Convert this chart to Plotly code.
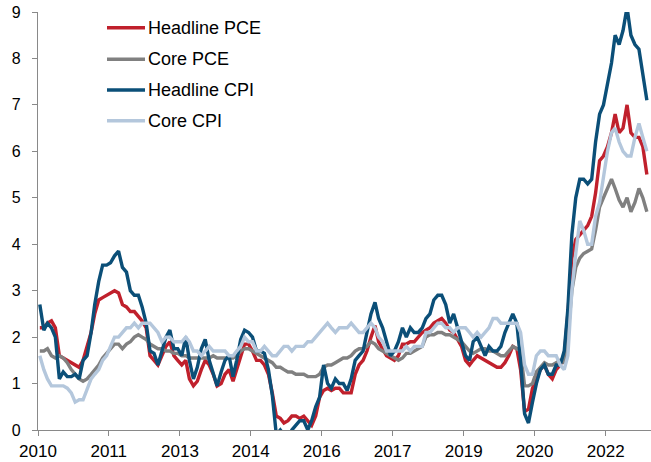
import plotly.graph_objects as go

# Monthly year-over-year inflation, Jan 2010 - Nov 2022 (%)
headline_pce = [
    2.2, 2.2, 2.3, 2.35, 2.2, 1.6, 1.55, 1.5, 1.45, 1.4, 1.35, 1.5,
    1.8, 2.1, 2.5, 2.8, 2.85, 2.9, 2.95, 3.0, 2.95, 2.7, 2.65, 2.55,
    2.55, 2.45, 2.35, 2.2, 1.6, 1.5, 1.4, 1.6, 1.8, 1.9, 1.6, 1.5,
    1.4, 1.5, 1.1, 0.95, 1.05, 1.3, 1.5, 1.4, 1.2, 0.95, 1.0, 1.2,
    1.3, 1.05, 1.3, 1.6, 1.85, 1.85, 1.7, 1.5, 1.5, 1.4, 1.2, 0.8,
    0.3, 0.25, 0.15, 0.2, 0.3, 0.3, 0.25, 0.3, 0.2, 0.1, 0.3, 0.7,
    0.85, 0.9, 0.85, 0.9, 0.9, 0.8, 0.8, 0.8, 1.2, 1.4, 1.5, 1.7,
    2.0, 2.25, 1.9, 1.75, 1.6, 1.55, 1.5, 1.6, 1.85, 1.85, 1.9, 1.9,
    2.0, 2.1, 2.15, 2.2, 2.3, 2.35, 2.4, 2.3, 2.15, 2.1, 1.95, 1.8,
    1.5, 1.4, 1.5, 1.6, 1.55, 1.5, 1.45, 1.4, 1.35, 1.35, 1.45, 1.6,
    1.8, 1.75, 1.3, 0.4, 0.45, 0.9, 1.1, 1.3, 1.4, 1.2, 1.1, 1.3,
    1.4, 1.6, 2.5, 3.7, 4.1, 4.2, 4.3, 4.4, 4.6, 5.1, 5.8, 5.9,
    6.1, 6.4, 6.8, 6.4, 6.5, 7.0, 6.4, 6.3, 6.3, 6.1, 5.5,
]

core_pce = [
    1.7, 1.7, 1.75, 1.6, 1.55, 1.6, 1.55, 1.45, 1.3, 1.2, 1.1, 1.05,
    1.1, 1.2, 1.3, 1.4, 1.55, 1.65, 1.75, 1.85, 1.85, 1.75, 1.85, 1.9,
    2.0, 2.05, 2.0, 1.95, 1.85, 1.8, 1.75, 1.75, 1.7, 1.7, 1.65, 1.65,
    1.6, 1.6, 1.55, 1.55, 1.55, 1.55, 1.55, 1.55, 1.6, 1.55, 1.55, 1.55,
    1.55, 1.55, 1.6, 1.7, 1.75, 1.75, 1.7, 1.65, 1.6, 1.55, 1.5, 1.45,
    1.35, 1.35, 1.3, 1.25, 1.25, 1.2, 1.2, 1.2, 1.15, 1.15, 1.15, 1.2,
    1.35, 1.4, 1.4, 1.45, 1.5, 1.55, 1.55, 1.6, 1.7, 1.75, 1.75, 1.8,
    1.9, 1.85, 1.75, 1.7, 1.65, 1.6, 1.55, 1.5, 1.55, 1.65, 1.65, 1.7,
    1.75, 1.8, 2.0, 2.05, 2.05, 2.1, 2.1, 2.05, 2.05, 2.0, 1.95, 1.9,
    1.8, 1.7, 1.65, 1.7, 1.75, 1.75, 1.7, 1.7, 1.65, 1.6, 1.6, 1.7,
    1.8, 1.75, 1.7, 0.95, 0.95, 1.0, 1.25, 1.35, 1.45, 1.4, 1.4, 1.45,
    1.5, 1.45, 2.0, 3.0, 3.5, 3.7, 3.8, 3.85, 3.9, 4.3, 4.8, 5.0,
    5.2, 5.4, 5.2, 4.95, 4.8, 5.0, 4.7, 4.9, 5.2, 5.0, 4.7,
]

headline_cpi = [
    2.7, 2.15, 2.3, 2.2, 2.0, 1.1, 1.25, 1.15, 1.15, 1.2, 1.1, 1.5,
    1.6, 2.1, 2.7, 3.2, 3.55, 3.55, 3.6, 3.75, 3.85, 3.5, 3.4, 3.0,
    2.9, 2.9, 2.65, 2.3, 1.7, 1.65, 1.4, 1.7, 2.0, 2.15, 1.75, 1.75,
    1.6, 2.0, 1.5, 1.1, 1.35, 1.75, 1.95, 1.5, 1.2, 0.95, 1.25, 1.5,
    1.6, 1.15, 1.5, 1.95, 2.15, 2.1, 2.0, 1.7, 1.7, 1.65, 1.3, 0.75,
    -0.1, 0.0, -0.1, -0.2, 0.0, 0.1, 0.2, 0.2, 0.0, 0.2, 0.5, 0.7,
    1.4, 1.0, 0.9, 1.1, 1.0, 1.0, 0.85, 1.1, 1.5, 1.6, 1.7, 2.1,
    2.5, 2.75, 2.4, 2.2, 1.9, 1.6, 1.7, 1.9, 2.2, 2.0, 2.2, 2.1,
    2.1, 2.2, 2.4, 2.5, 2.8, 2.9, 2.9, 2.7, 2.3, 2.5, 2.2, 1.9,
    1.6, 1.5, 1.9, 2.0, 1.8, 1.6, 1.8, 1.7, 1.7, 1.8, 2.1, 2.3,
    2.5, 2.3, 1.5, 0.35, 0.15, 0.6, 1.0, 1.3, 1.4, 1.2, 1.2, 1.4,
    1.4, 1.7, 2.6, 4.2, 5.0, 5.4, 5.4, 5.3, 5.4, 6.2, 6.8, 7.0,
    7.5, 7.9, 8.5, 8.3, 8.6, 9.1, 8.5, 8.3, 8.2, 7.7, 7.1,
]

core_cpi = [
    1.6, 1.3, 1.1, 0.95, 0.95, 0.95, 0.95, 0.9, 0.8, 0.6, 0.65, 0.65,
    0.9, 1.1, 1.2, 1.3, 1.5, 1.6, 1.8, 2.0, 2.0, 2.1, 2.2, 2.2,
    2.3, 2.2, 2.3, 2.3, 2.3, 2.2, 2.1, 1.9, 2.0, 2.0, 1.9, 1.9,
    1.9, 2.0, 1.9, 1.7, 1.7, 1.6, 1.7, 1.8, 1.7, 1.7, 1.7, 1.7,
    1.6, 1.6, 1.7, 1.8, 2.0, 1.9, 1.9, 1.7, 1.7, 1.8, 1.7, 1.6,
    1.6, 1.7, 1.8, 1.8, 1.7, 1.8, 1.8, 1.8, 1.9, 1.9, 2.0, 2.1,
    2.2, 2.3, 2.2, 2.1, 2.2, 2.2, 2.2, 2.3, 2.2, 2.1, 2.1, 2.2,
    2.3, 2.2, 2.0, 1.9, 1.7, 1.7, 1.7, 1.7, 1.7, 1.8, 1.7, 1.8,
    1.8, 1.8, 2.1, 2.1, 2.2, 2.3, 2.3, 2.2, 2.2, 2.1, 2.2, 2.2,
    2.2, 2.1, 2.0, 2.1, 2.0, 2.1, 2.2, 2.4, 2.4, 2.3, 2.3, 2.3,
    2.3, 2.3, 2.1, 1.4, 1.2, 1.2, 1.6, 1.7, 1.7, 1.6, 1.6, 1.6,
    1.4, 1.3, 1.6, 3.0, 3.8, 4.5, 4.3, 4.0, 4.0, 4.6, 4.9, 5.5,
    6.0, 6.4, 6.5, 6.2, 6.0, 5.9, 5.9, 6.3, 6.6, 6.3, 6.0,
]

series_names = ["Headline PCE", "Core PCE", "Headline CPI", "Core CPI"]
series_values = [headline_pce, core_pce, headline_cpi, core_cpi]
series_colors = ["#C0202C", "#808080", "#0B4F78", "#B4C7DC"]

dates = [f"{2010 + i // 12}-{i % 12 + 1:02d}-15" for i in range(len(headline_cpi))]

FONT = "Arial, Liberation Sans, sans-serif"
AXIS = "#898989"

fig = go.Figure()
for name, vals, col in zip(series_names, series_values, series_colors):
    fig.add_trace(go.Scatter(x=dates, y=vals, name=name, mode="lines",
                             line=dict(color=col, width=3.4), showlegend=False))

# manual legend (line sample + label), in paper coordinates
W_L, W_R, M_T, M_B = 38, 0, 12, 32
PW, PH = 651 - W_L - W_R, 462 - M_T - M_B
def px_x(p):
    return (p - W_L) / PW
def px_y(p):
    return (462 - M_B - p) / PH

legend_y = [27.7, 59.3, 90.0, 120.7]
shapes, annos = [], []
for name, col, ly in zip(series_names, series_colors, legend_y):
    shapes.append(dict(type="line", xref="paper", yref="paper",
                       x0=px_x(107), x1=px_x(145), y0=px_y(ly), y1=px_y(ly),
                       line=dict(color=col, width=3.4)))
    annos.append(dict(xref="paper", yref="paper", x=px_x(146), y=px_y(ly),
                      xanchor="left", yanchor="middle", text=name, showarrow=False,
                      font=dict(family=FONT, size=18, color="#000000")))

fig.update_layout(
    width=651, height=462,
    margin=dict(l=W_L, r=W_R, t=M_T, b=M_B, autoexpand=False),
    paper_bgcolor="white", plot_bgcolor="white",
    showlegend=False,
    shapes=shapes, annotations=annos,
    xaxis=dict(type="date", range=["2010-01-01", "2022-12-17"],
               tick0="2010-01-01", dtick="M18", tickformat="%Y",
               automargin=False,
               showline=True, linecolor=AXIS, linewidth=1.3,
               ticks="outside", ticklen=5, tickcolor=AXIS, tickwidth=1.3,
               showgrid=False, zeroline=False, ticklabelstandoff=0,
               tickfont=dict(family=FONT, size=17, color="#000000")),
    yaxis=dict(range=[0, 9], dtick=1, tick0=0, automargin=False,
               showline=True, linecolor=AXIS, linewidth=1.3,
               ticks="outside", ticklen=5, tickcolor=AXIS, tickwidth=1.3,
               showgrid=False, zeroline=False, ticklabelstandoff=8,
               tickfont=dict(family=FONT, size=16, color="#000000")),
)

fig.write_html("out.html", config={"displayModeBar": False},
               post_script="document.body.style.margin='0';document.body.style.padding='0';document.body.style.overflow='hidden';")
